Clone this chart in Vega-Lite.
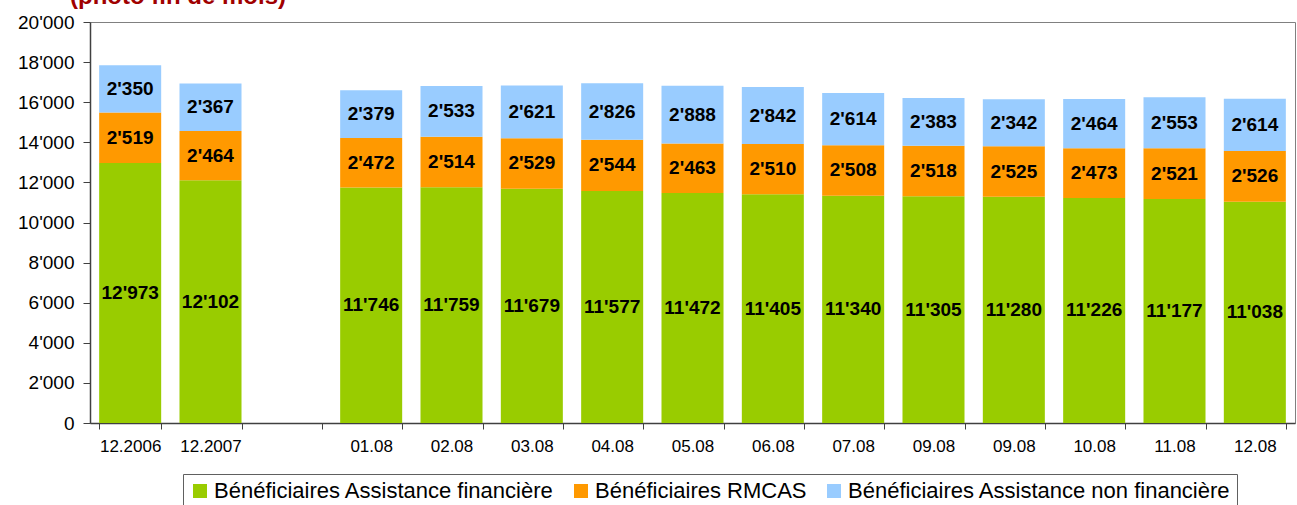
{
  "$schema": "https://vega.github.io/schema/vega-lite/v6.json",
  "width": 1205,
  "height": 401,
  "autosize": "none",
  "padding": {"left": 90, "top": 22, "right": 2, "bottom": 82},
  "title": {
    "text": "(photo fin de mois)",
    "anchor": "start",
    "frame": "group",
    "dx": -20,
    "dy": 15,
    "offset": 0,
    "baseline": "alphabetic",
    "fontSize": 24,
    "fontWeight": "bold",
    "font": "Liberation Sans",
    "color": "#A00000"
  },
  "config": {
    "locale": {"number": {"decimal": ".", "thousands": "'", "grouping": [3], "currency": ["", ""]}},
    "view": {"stroke": "#808080", "strokeWidth": 1},
    "font": "Liberation Sans"
  },
  "data": {
    "values": [
      {"cat": "12.2006", "serie": "Bénéficiaires Assistance financière", "order": 1, "value": 12973},
      {"cat": "12.2006", "serie": "Bénéficiaires RMCAS", "order": 2, "value": 2519},
      {"cat": "12.2006", "serie": "Bénéficiaires Assistance non financière", "order": 3, "value": 2350},
      {"cat": "12.2007", "serie": "Bénéficiaires Assistance financière", "order": 1, "value": 12102},
      {"cat": "12.2007", "serie": "Bénéficiaires RMCAS", "order": 2, "value": 2464},
      {"cat": "12.2007", "serie": "Bénéficiaires Assistance non financière", "order": 3, "value": 2367},
      {"cat": "01.08", "serie": "Bénéficiaires Assistance financière", "order": 1, "value": 11746},
      {"cat": "01.08", "serie": "Bénéficiaires RMCAS", "order": 2, "value": 2472},
      {"cat": "01.08", "serie": "Bénéficiaires Assistance non financière", "order": 3, "value": 2379},
      {"cat": "02.08", "serie": "Bénéficiaires Assistance financière", "order": 1, "value": 11759},
      {"cat": "02.08", "serie": "Bénéficiaires RMCAS", "order": 2, "value": 2514},
      {"cat": "02.08", "serie": "Bénéficiaires Assistance non financière", "order": 3, "value": 2533},
      {"cat": "03.08", "serie": "Bénéficiaires Assistance financière", "order": 1, "value": 11679},
      {"cat": "03.08", "serie": "Bénéficiaires RMCAS", "order": 2, "value": 2529},
      {"cat": "03.08", "serie": "Bénéficiaires Assistance non financière", "order": 3, "value": 2621},
      {"cat": "04.08", "serie": "Bénéficiaires Assistance financière", "order": 1, "value": 11577},
      {"cat": "04.08", "serie": "Bénéficiaires RMCAS", "order": 2, "value": 2544},
      {"cat": "04.08", "serie": "Bénéficiaires Assistance non financière", "order": 3, "value": 2826},
      {"cat": "05.08", "serie": "Bénéficiaires Assistance financière", "order": 1, "value": 11472},
      {"cat": "05.08", "serie": "Bénéficiaires RMCAS", "order": 2, "value": 2463},
      {"cat": "05.08", "serie": "Bénéficiaires Assistance non financière", "order": 3, "value": 2888},
      {"cat": "06.08", "serie": "Bénéficiaires Assistance financière", "order": 1, "value": 11405},
      {"cat": "06.08", "serie": "Bénéficiaires RMCAS", "order": 2, "value": 2510},
      {"cat": "06.08", "serie": "Bénéficiaires Assistance non financière", "order": 3, "value": 2842},
      {"cat": "07.08", "serie": "Bénéficiaires Assistance financière", "order": 1, "value": 11340},
      {"cat": "07.08", "serie": "Bénéficiaires RMCAS", "order": 2, "value": 2508},
      {"cat": "07.08", "serie": "Bénéficiaires Assistance non financière", "order": 3, "value": 2614},
      {"cat": "09.08", "serie": "Bénéficiaires Assistance financière", "order": 1, "value": 11305},
      {"cat": "09.08", "serie": "Bénéficiaires RMCAS", "order": 2, "value": 2518},
      {"cat": "09.08", "serie": "Bénéficiaires Assistance non financière", "order": 3, "value": 2383},
      {"cat": "09.08 ", "serie": "Bénéficiaires Assistance financière", "order": 1, "value": 11280},
      {"cat": "09.08 ", "serie": "Bénéficiaires RMCAS", "order": 2, "value": 2525},
      {"cat": "09.08 ", "serie": "Bénéficiaires Assistance non financière", "order": 3, "value": 2342},
      {"cat": "10.08", "serie": "Bénéficiaires Assistance financière", "order": 1, "value": 11226},
      {"cat": "10.08", "serie": "Bénéficiaires RMCAS", "order": 2, "value": 2473},
      {"cat": "10.08", "serie": "Bénéficiaires Assistance non financière", "order": 3, "value": 2464},
      {"cat": "11.08", "serie": "Bénéficiaires Assistance financière", "order": 1, "value": 11177},
      {"cat": "11.08", "serie": "Bénéficiaires RMCAS", "order": 2, "value": 2521},
      {"cat": "11.08", "serie": "Bénéficiaires Assistance non financière", "order": 3, "value": 2553},
      {"cat": "12.08", "serie": "Bénéficiaires Assistance financière", "order": 1, "value": 11038},
      {"cat": "12.08", "serie": "Bénéficiaires RMCAS", "order": 2, "value": 2526},
      {"cat": "12.08", "serie": "Bénéficiaires Assistance non financière", "order": 3, "value": 2614}
    ]
  },
  "transform": [
    {"stack": "value", "groupby": ["cat"], "sort": [{"field": "order"}], "as": ["v0", "v1"]}
  ],
  "encoding": {
    "x": {
      "field": "cat",
      "type": "nominal",
      "sort": null,
      "scale": {
        "domain": ["12.2006", "12.2007", " ", "01.08", "02.08", "03.08", "04.08", "05.08", "06.08", "07.08", "09.08", "09.08 ", "10.08", "11.08", "12.08"],
        "paddingInner": 0.228,
        "paddingOuter": 0.114
      },
      "axis": {
        "title": null,
        "labelAngle": 0,
        "labelExpr": "trim(datum.label)",
        "labelFontSize": 17,
        "labelFont": "Liberation Sans",
        "labelColor": "#000000",
        "labelPadding": 9,
        "tickBand": "extent",
        "tickSize": 6,
        "tickColor": "#404040",
        "domainColor": "#404040",
        "domainWidth": 1.5
      }
    }
  },
  "layer": [
    {
      "mark": {"type": "bar"},
      "encoding": {
        "y": {
          "field": "v1",
          "type": "quantitative",
          "scale": {"domain": [0, 20000], "nice": false},
          "axis": {
            "title": null,
            "grid": false,
            "values": [0, 2000, 4000, 6000, 8000, 10000, 12000, 14000, 16000, 18000, 20000],
            "format": ",d",
            "labelFontSize": 19,
            "labelFont": "Liberation Sans",
            "labelColor": "#000000",
            "labelPadding": 9,
            "tickSize": 7,
            "tickColor": "#404040",
            "domainColor": "#404040",
            "domainWidth": 1.5
          }
        },
        "y2": {"field": "v0"},
        "color": {
          "field": "serie",
          "type": "nominal",
          "scale": {
            "domain": ["Bénéficiaires Assistance financière", "Bénéficiaires RMCAS", "Bénéficiaires Assistance non financière"],
            "range": ["#99CC00", "#FF9900", "#99CCFF"]
          },
          "legend": {
            "title": null,
            "orient": "none",
            "legendX": 93,
            "legendY": 452,
            "direction": "horizontal",
            "strokeColor": "#606060",
            "fillColor": "#FFFFFF",
            "padding": 6,
            "symbolType": "square",
            "symbolSize": 196,
            "symbolStrokeWidth": 0,
            "symbolOpacity": 1,
            "labelFontSize": 22,
            "labelFont": "Liberation Sans",
            "labelColor": "#000000",
            "labelOffset": 3,
            "columnPadding": 16,
            "labelLimit": 600
          }
        }
      }
    },
    {
      "transform": [
        {"fold": ["v0", "v1"], "as": ["k", "pos"]},
        {"aggregate": [{"op": "mean", "field": "pos", "as": "mid"}], "groupby": ["cat", "serie", "value"]}
      ],
      "mark": {"type": "text", "fontSize": 19, "fontWeight": "bold", "font": "Liberation Sans", "color": "#000000"},
      "encoding": {
        "y": {"field": "mid", "type": "quantitative"},
        "text": {"field": "value", "type": "quantitative", "format": ",d"}
      }
    }
  ]
}
